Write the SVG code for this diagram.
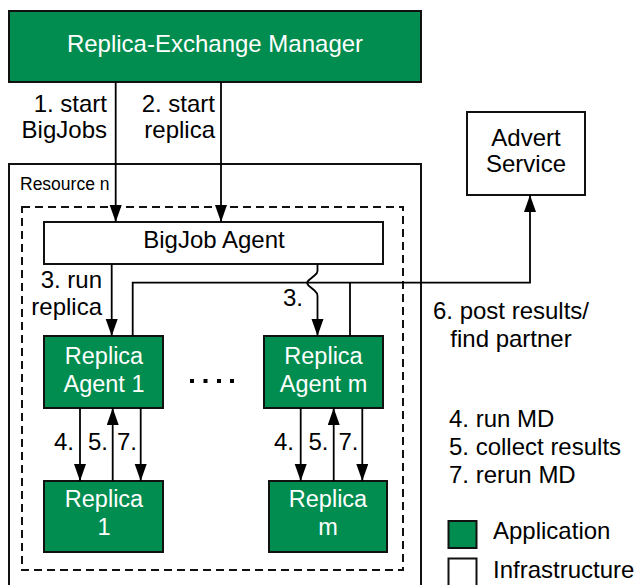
<svg xmlns="http://www.w3.org/2000/svg" width="634" height="585" viewBox="0 0 634 585">
  <style>
    text { font-family: "Liberation Sans", Arial, sans-serif; font-size: 24px; fill: #000; }
    .w { fill: #fff; font-size: 23.5px; }
    .mid { text-anchor: middle; }
    .end { text-anchor: end; }
    .app { fill: #008d4f; stroke: #111; stroke-width: 2; }
    .infra { fill: #fff; stroke: #111; stroke-width: 2; }
    .frame { fill: none; stroke: #111; stroke-width: 2; }
    .dash { fill: none; stroke: #111; stroke-width: 2; stroke-dasharray: 8 5; }
    .conn path, .conn line { fill: none; stroke: #000; stroke-width: 1.8; }
  </style>
  <defs>
    <marker id="arrow" markerUnits="userSpaceOnUse" markerWidth="18" markerHeight="13" refX="17" refY="6" orient="auto">
      <path d="M0,0 L17,6 L0,12 z" fill="#000"/>
    </marker>
  </defs>

  <!-- containers -->
  <g id="resource-n">
    <path class="frame" d="M9,592 V164 H421 V592"/>
    <text x="20" y="190" style="font-size:17.5px">Resource n</text>
  </g>
  <rect id="pilot-boundary" class="dash" x="22" y="207" width="381" height="363"/>

  <g id="manager">
    <rect class="app" x="9" y="11" width="412" height="71"/>
    <text class="w mid" x="215" y="52" style="font-size:24px">Replica-Exchange Manager</text>
  </g>

  <g id="advert">
    <rect class="infra" x="467" y="112" width="118" height="83"/>
    <text class="mid" x="526" y="146">Advert</text>
    <text class="mid" x="526" y="172">Service</text>
  </g>

  <g id="bigjob-agent">
    <rect class="infra" x="44" y="222" width="339" height="42"/>
    <text class="mid" x="214" y="248">BigJob Agent</text>
  </g>

  <g id="replica-agent-1">
    <rect class="app" x="44" y="336" width="119" height="72"/>
    <text class="w mid" x="104" y="364">Replica</text>
    <text class="w mid" x="104" y="392">Agent 1</text>
  </g>

  <g id="replica-agent-m">
    <rect class="app" x="264" y="336" width="119" height="72"/>
    <text class="w mid" x="323.5" y="364">Replica</text>
    <text class="w mid" x="323.5" y="392">Agent m</text>
  </g>

  <g id="replica-1">
    <rect class="app" x="44" y="481" width="119" height="71"/>
    <text class="w mid" x="104" y="507">Replica</text>
    <text class="w mid" x="104" y="535">1</text>
  </g>

  <g id="replica-m">
    <rect class="app" x="269" y="481" width="118" height="71"/>
    <text class="w mid" x="328" y="507">Replica</text>
    <text class="w mid" x="328" y="535">m</text>
  </g>

  <g id="ellipsis" fill="#000">
    <rect x="190" y="379" width="4" height="4"/>
    <rect x="203.5" y="379" width="4" height="4"/>
    <rect x="217" y="379" width="4" height="4"/>
    <rect x="230" y="379" width="4" height="4"/>
  </g>

  <!-- connectors -->
  <g id="connectors" class="conn">
    <line x1="115.7" y1="82" x2="115.7" y2="222" marker-end="url(#arrow)"/>
    <line x1="221" y1="82" x2="221" y2="222" marker-end="url(#arrow)"/>
    <line x1="111.7" y1="264" x2="111.7" y2="336" marker-end="url(#arrow)"/>
    <path d="M317.5,264 V271 Q317.5,273 314.5,275.5 L308.5,280.5 Q306,283 308.5,285.5 L314.5,290.5 Q317.5,293 317.5,296 V336" marker-end="url(#arrow)"/>
    <path d="M132.7,336 V282.7 H530 V195" marker-end="url(#arrow)"/>
    <path d="M350,336 V282.7"/>
    <line x1="80" y1="408" x2="80" y2="481" marker-end="url(#arrow)"/>
    <line x1="112.7" y1="481" x2="112.7" y2="408" marker-end="url(#arrow)"/>
    <line x1="140.7" y1="408" x2="140.7" y2="481" marker-end="url(#arrow)"/>
    <line x1="300.7" y1="408" x2="300.7" y2="481" marker-end="url(#arrow)"/>
    <line x1="333.7" y1="481" x2="333.7" y2="408" marker-end="url(#arrow)"/>
    <line x1="362.3" y1="408" x2="362.3" y2="481" marker-end="url(#arrow)"/>
  </g>

  <!-- connector labels -->
  <g id="labels">
    <text class="end" x="107" y="112">1. start</text>
    <text class="end" x="107" y="138">BigJobs</text>
    <text class="end" x="215" y="112">2. start</text>
    <text class="end" x="215" y="138">replica</text>
    <text class="end" x="102" y="288">3. run</text>
    <text class="end" x="102" y="315">replica</text>
    <text class="end" x="303" y="306">3.</text>
    <text class="mid" x="511" y="319">6. post results/</text>
    <text class="mid" x="511" y="347">find partner</text>
    <text class="end" x="74" y="450">4.</text>
    <text class="end" x="108" y="450">5.</text>
    <text class="end" x="137" y="450">7.</text>
    <text class="end" x="294" y="450">4.</text>
    <text class="end" x="328.5" y="450">5.</text>
    <text class="end" x="358.5" y="450">7.</text>
  </g>

  <!-- legend -->
  <g id="legend">
    <text x="449" y="427">4. run MD</text>
    <text x="449" y="455">5. collect results</text>
    <text x="449" y="483">7. rerun MD</text>
    <rect class="app" x="448.5" y="521" width="28" height="27"/>
    <text x="493" y="539">Application</text>
    <rect class="infra" x="448.5" y="558.5" width="28" height="32"/>
    <text x="493" y="578">Infrastructure</text>
  </g>
</svg>
